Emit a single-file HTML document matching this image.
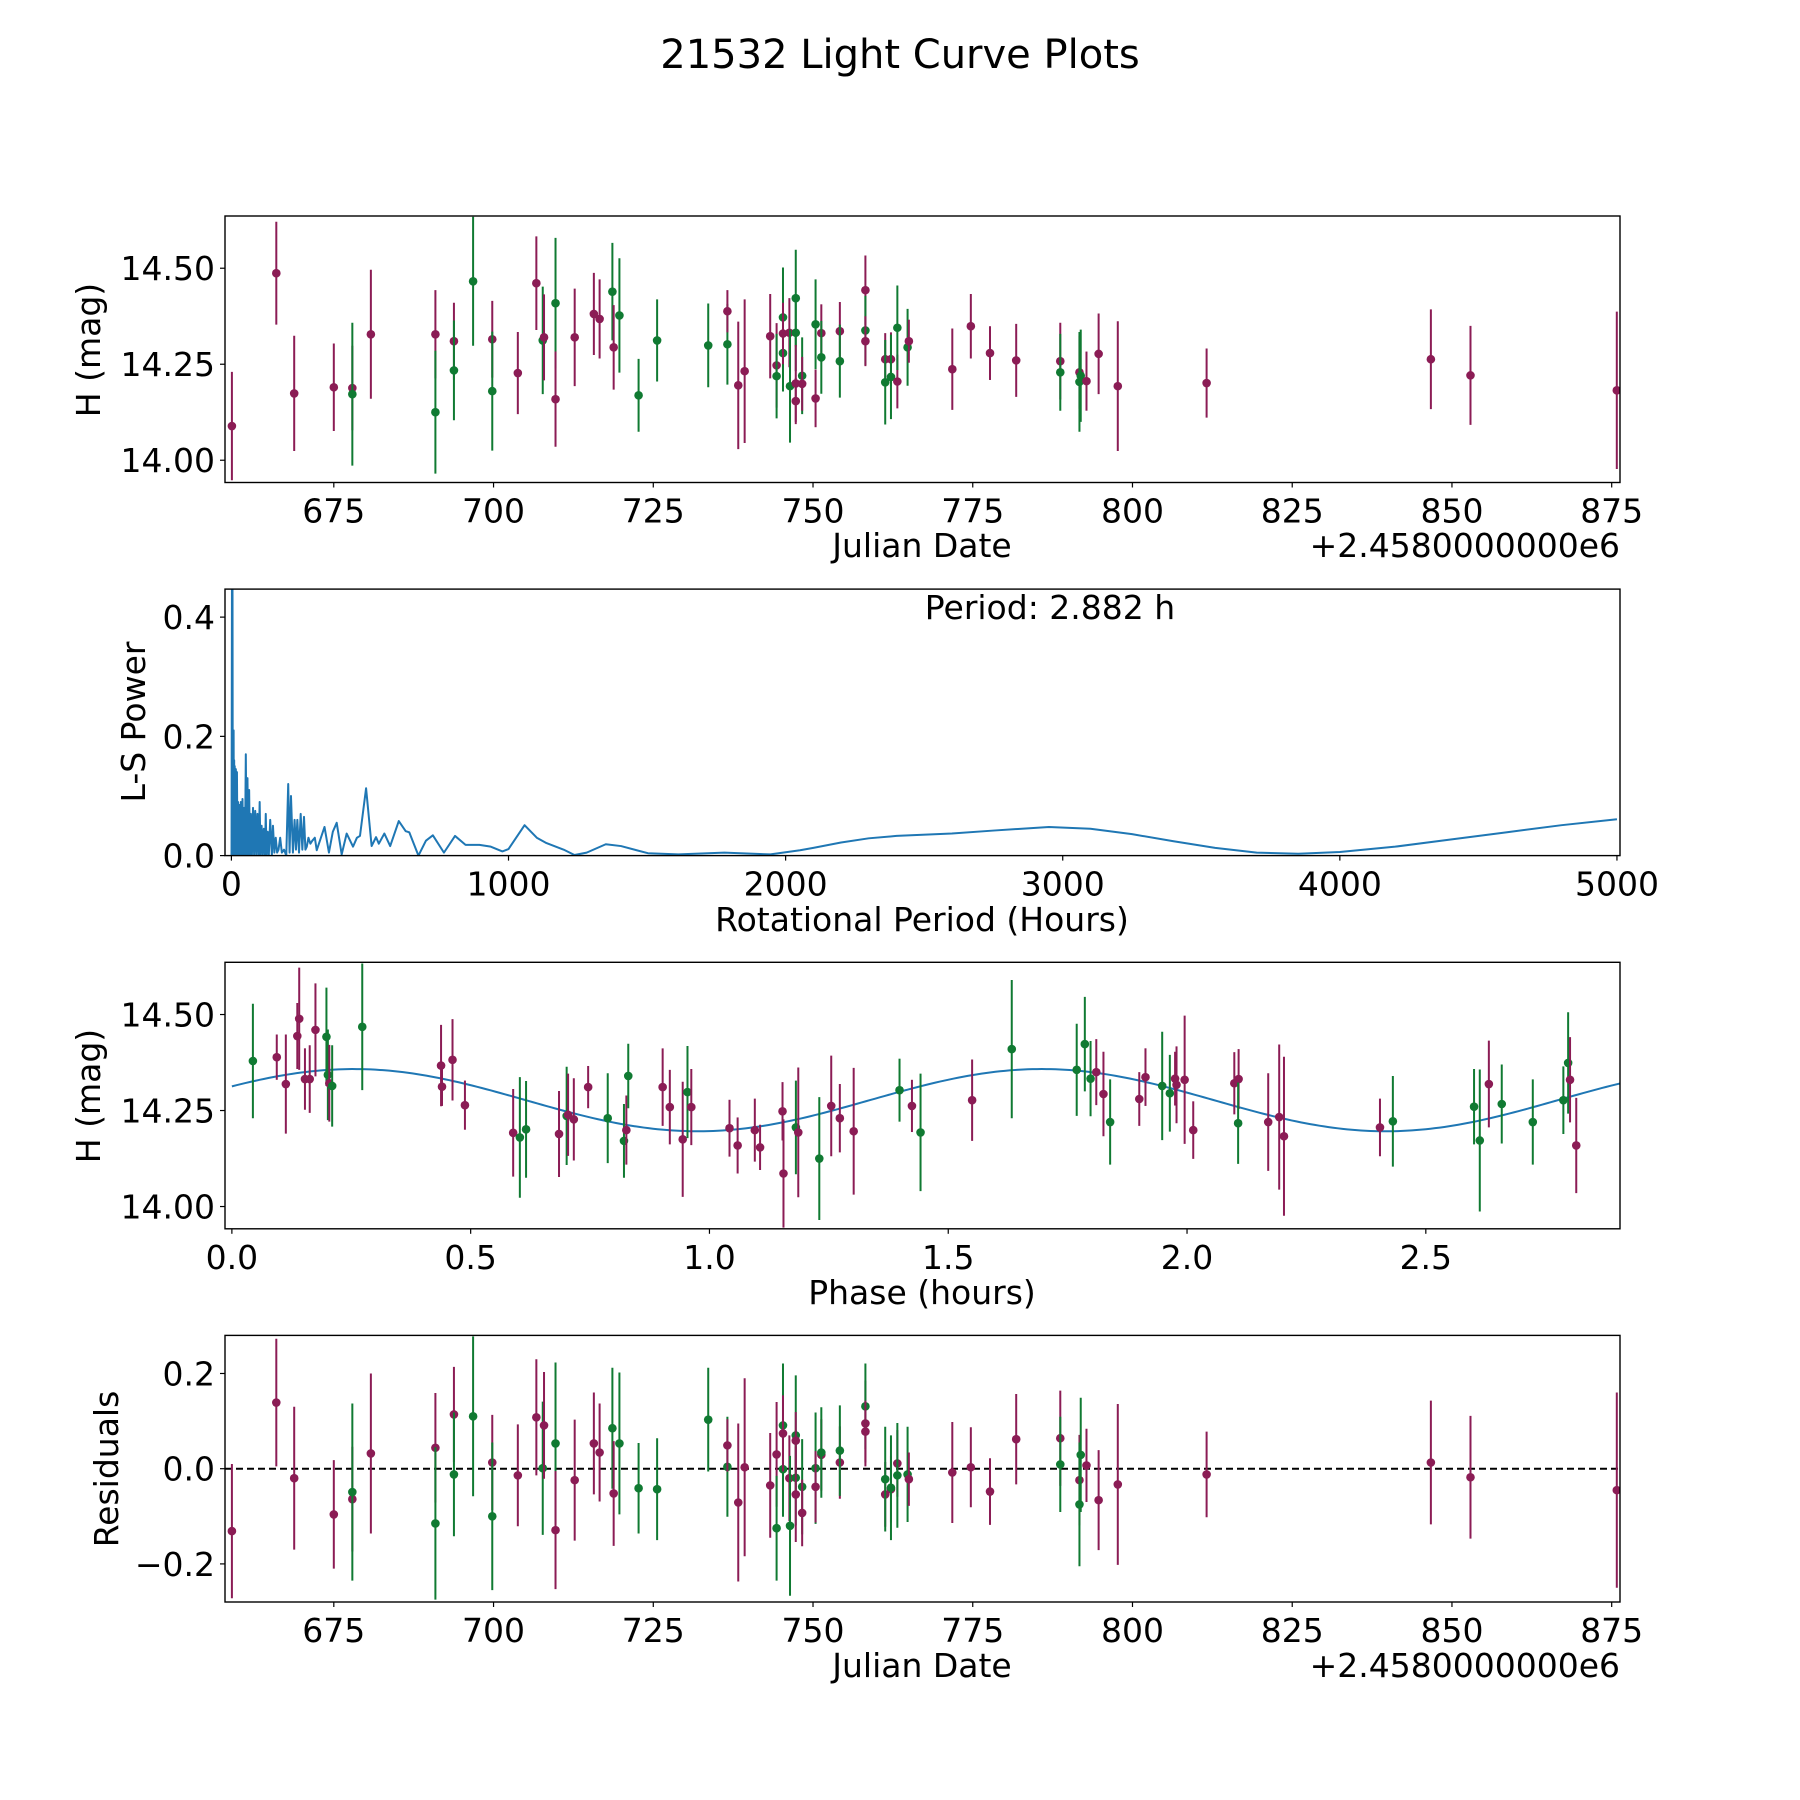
<!DOCTYPE html>
<html><head><meta charset="utf-8"><title>21532 Light Curve Plots</title>
<style>
html,body{margin:0;padding:0;background:#fff;}
svg{display:block;font-family:"DejaVu Sans","Liberation Sans",sans-serif;}
</style></head>
<body>
<svg id="fig" width="1800" height="1800" viewBox="0 0 1800 1800" xmlns="http://www.w3.org/2000/svg">
<rect width="1800" height="1800" fill="#fff"/>
<text x="900" y="68" text-anchor="middle" font-size="40">21532 Light Curve Plots</text>
</svg>
<script>
// ---- Panel 1 / 4 data (Julian date offset, H mag, error, band, residual) ----
const jdDays = [659.05,666.0,668.8,675.0,677.9,677.9,680.8,690.9,690.9,693.8,693.8,696.8,699.8,699.8,703.8,706.7,707.7,707.9,709.7,709.7,712.7,715.7,716.6,718.6,718.8,719.7,722.7,725.6,733.6,736.6,736.6,738.3,739.3,743.3,744.3,744.3,745.3,745.3,745.3,746.3,746.4,747.3,747.3,747.3,747.3,748.3,748.3,750.4,750.4,751.3,751.3,754.2,754.2,758.2,758.2,758.2,761.3,761.3,762.2,762.2,763.2,763.2,764.8,765.0,771.8,774.7,777.7,781.8,788.7,788.7,791.7,791.7,791.9,792.8,794.7,797.7,811.6,846.7,852.9,875.8];
const hMag = [14.089,14.487,14.174,14.190,14.188,14.172,14.328,14.328,14.125,14.310,14.234,14.466,14.315,14.180,14.227,14.461,14.312,14.320,14.409,14.159,14.320,14.381,14.368,14.439,14.294,14.377,14.169,14.312,14.299,14.302,14.388,14.195,14.232,14.323,14.247,14.219,14.372,14.279,14.330,14.332,14.193,14.332,14.422,14.200,14.154,14.220,14.199,14.354,14.161,14.331,14.268,14.336,14.258,14.443,14.338,14.310,14.263,14.203,14.263,14.217,14.205,14.345,14.294,14.310,14.237,14.349,14.279,14.260,14.258,14.229,14.229,14.204,14.220,14.206,14.277,14.193,14.201,14.263,14.221,14.182];
const hErr = [0.141,0.134,0.150,0.114,0.110,0.186,0.168,0.115,0.160,0.100,0.130,0.168,0.100,0.155,0.107,0.122,0.140,0.112,0.170,0.124,0.127,0.107,0.103,0.127,0.110,0.149,0.095,0.107,0.109,0.105,0.055,0.166,0.187,0.110,0.110,0.110,0.130,0.100,0.080,0.090,0.147,0.100,0.126,0.100,0.060,0.100,0.070,0.117,0.075,0.075,0.095,0.076,0.095,0.090,0.090,0.065,0.068,0.110,0.070,0.110,0.070,0.110,0.100,0.056,0.106,0.084,0.070,0.095,0.100,0.100,0.095,0.130,0.120,0.077,0.105,0.169,0.090,0.130,0.129,0.205];
const band = ["P","P","P","P","P","G","P","P","G","P","G","G","P","G","P","P","G","P","G","P","P","P","P","G","P","G","G","G","G","G","P","P","P","P","P","G","G","G","P","P","G","G","G","P","P","G","P","G","P","P","G","P","G","P","G","P","P","G","P","G","P","G","G","P","P","P","P","P","P","G","P","G","G","P","P","P","P","P","P","P"];
const resid = [-0.131,0.139,-0.020,-0.096,-0.064,-0.049,0.032,0.044,-0.115,0.114,-0.012,0.110,0.013,-0.100,-0.014,0.108,0.001,0.091,0.053,-0.129,-0.024,0.053,0.034,0.085,-0.052,0.053,-0.041,-0.043,0.103,0.004,0.049,-0.071,0.003,-0.035,0.030,-0.125,0.091,-0.001,0.074,-0.020,-0.120,-0.019,0.070,-0.054,0.059,-0.038,-0.093,0.001,-0.038,0.029,0.034,0.013,0.038,0.095,0.131,0.078,-0.054,-0.022,-0.043,-0.040,0.011,-0.014,-0.012,-0.022,-0.008,0.003,-0.048,0.062,0.064,0.009,-0.024,-0.075,0.029,0.007,-0.066,-0.033,-0.012,0.013,-0.018,-0.045];

// ---- Panel 3 data (phase folded) ----
const phase = [0.044,0.094,0.113,0.137,0.141,0.153,0.163,0.175,0.198,0.201,0.204,0.210,0.273,0.438,0.440,0.462,0.488,0.589,0.603,0.616,0.685,0.701,0.704,0.716,0.746,0.787,0.821,0.826,0.830,0.902,0.917,0.944,0.954,0.962,1.042,1.059,1.095,1.106,1.153,1.155,1.181,1.186,1.230,1.255,1.273,1.302,1.398,1.424,1.442,1.550,1.633,1.769,1.786,1.798,1.810,1.825,1.839,1.900,1.913,1.948,1.964,1.975,1.978,1.995,2.013,2.099,2.108,2.107,2.170,2.193,2.203,2.404,2.431,2.601,2.613,2.632,2.659,2.724,2.788,2.798,2.802,2.815];
const phMag = [14.379,14.389,14.319,14.444,14.489,14.332,14.332,14.460,14.442,14.343,14.321,14.314,14.468,14.367,14.312,14.382,14.264,14.192,14.180,14.201,14.189,14.236,14.239,14.227,14.311,14.230,14.171,14.199,14.340,14.311,14.259,14.175,14.298,14.259,14.204,14.159,14.199,14.154,14.248,14.086,14.206,14.193,14.125,14.262,14.230,14.196,14.303,14.262,14.193,14.277,14.410,14.356,14.423,14.333,14.350,14.293,14.220,14.280,14.337,14.314,14.295,14.333,14.317,14.330,14.199,14.321,14.332,14.217,14.220,14.233,14.183,14.206,14.222,14.260,14.172,14.319,14.267,14.220,14.277,14.374,14.330,14.159];
const phErr = [0.149,0.059,0.129,0.086,0.133,0.080,0.088,0.121,0.128,0.118,0.100,0.106,0.165,0.106,0.050,0.106,0.064,0.114,0.157,0.126,0.112,0.128,0.107,0.107,0.055,0.117,0.096,0.090,0.084,0.101,0.097,0.150,0.120,0.099,0.074,0.073,0.082,0.059,0.076,0.141,0.122,0.169,0.160,0.131,0.089,0.165,0.082,0.068,0.153,0.106,0.180,0.120,0.123,0.098,0.086,0.110,0.111,0.070,0.075,0.141,0.100,0.070,0.100,0.167,0.075,0.081,0.078,0.106,0.127,0.189,0.207,0.075,0.118,0.098,0.185,0.113,0.103,0.111,0.088,0.132,0.111,0.124];
const phBand = ["G","P","P","P","P","P","P","P","G","G","P","G","G","P","P","P","P","P","G","G","P","G","P","P","P","G","G","P","G","P","P","P","G","P","P","P","P","P","P","P","G","P","G","P","P","P","G","P","G","P","G","G","G","G","P","P","G","P","P","G","G","P","P","P","P","P","P","G","P","P","P","P","G","G","G","P","G","G","G","G","P","P"];
// fitted model parameters (mean, amplitude, peak phase, half period)
const modelMean = 14.277, modelAmp = 0.081, modelPeak = 0.255, modelPeriod = 1.441;

// ---- Panel 2 data (Lomb-Scargle periodogram) ----
const lsPeriod = [0.5,2,3,4,5,6,7,8,9,10,11,12,14,16,18,20,22,24,26,28,31,34,37,40,43,46,49,52,55,58,61,64,67,70,74,78,82,86,90,94,98,102,105,109,113,117,121,124,127,131,135,140,146,150,155,160,165,170,176,182,190,198,205,210,215,222,228,233,238,244,250,256,262,267,272,278,285,292,
301,308,336,352,366,380,398,416,439,453,464,486,506,522,532,552,573,604,629,642,675,702,727,767,807,845,895,936,978,1000,1058,1102,1137,1199,1238,1282,1351,1406,1503,1613,1779,1945,2052,2100,2200,2300,2400,2600,2750,2950,3100,3250,3400,3550,3700,3850,4000,4200,4400,4600,4800,5000];
const lsPower = [0.0,0.45,0.02,0.45,0.0,0.21,0.01,0.21,0.0,0.16,0.0,0.15,0.0,0.145,0.0,0.14,0.0,0.09,0.0,0.085,0.0,0.09,0.0,0.095,0.0,0.08,0.0,0.17,0.0,0.13,0.0,0.11,0.0,0.07,0.0,0.08,0.0,0.075,0.0,0.07,0.0,0.09,0.0,0.05,0.0,0.045,0.0,0.07,0.0,0.04,0.0,0.06,0.0,0.05,0.005,0.03,0.005,0.01,0.03,0.005,0.01,0.0,0.12,0.005,0.10,0.005,0.06,0.01,0.06,0.005,0.07,0.01,0.065,0.01,0.015,0.03,0.02,0.025,
0.030,0.009,0.048,0.005,0.040,0.055,0.002,0.037,0.015,0.030,0.033,0.113,0.016,0.031,0.020,0.037,0.016,0.058,0.041,0.039,0.000,0.025,0.034,0.005,0.033,0.018,0.018,0.015,0.007,0.011,0.051,0.030,0.021,0.010,0.001,0.005,0.019,0.016,0.004,0.002,0.005,0.002,0.009,0.013,0.022,0.029,0.033,0.037,0.042,0.048,0.045,0.036,0.024,0.013,0.005,0.003,0.006,0.015,0.027,0.039,0.051,0.061];

const jdTicks = [675,700,725,750,775,800,825,850,875];
const magTicks = [14.00,14.25,14.50];
const magTickLabels = ["14.00","14.25","14.50"];
const lsXTicks = [0,1000,2000,3000,4000,5000];
const lsYTicks = [0,0.2,0.4];
const lsYTickLabels = ["0.0","0.2","0.4"];
const phTicks = [0,0.5,1.0,1.5,2.0,2.5];
const phTickLabels = ["0.0","0.5","1.0","1.5","2.0","2.5"];
const resTicks = [-0.2,0,0.2];
const resTickLabels = ["\u22120.2","0.0","0.2"];

const NS = "http://www.w3.org/2000/svg";
const svg = document.getElementById("fig");
const COL = {P:"#8b1c55", G:"#107a32"};
const L = 225, R = 1620;
const FS = 33;

function mk(tag, attrs, parent){
  const e = document.createElementNS(NS, tag);
  for (const k in attrs) e.setAttribute(k, attrs[k]);
  (parent || svg).appendChild(e);
  return e;
}
function lin(d0,d1,r0,r1){ return v => r0 + (v-d0)*(r1-r0)/(d1-d0); }

function makeAxes(name, top, bot, xdom, ydom){
  const g = mk("g", {});
  
  
  const clipId = name + "-clip";
  const cp = mk("clipPath", {id: clipId}, g);
  mk("rect", {x:L, y:top, width:R-L, height:bot-top}, cp);
  const plot = mk("g", {"clip-path":"url(#"+clipId+")"}, g);
  
  
  return {g, plot, top, bot, x: lin(xdom[0],xdom[1],L,R), y: lin(ydom[0],ydom[1],bot,top)};
}
function frame(ax){
  const f = mk("rect", {x:L, y:ax.top, width:R-L, height:ax.bot-ax.top, fill:"none", stroke:"#000", "stroke-width":1.4}, ax.g);
  
  
}
function xTicks(ax, vals, labels){
  vals.forEach((v,i)=>{
    const px = ax.x(v);
    mk("line", {x1:px, x2:px, y1:ax.bot, y2:ax.bot+5, stroke:"#000", "stroke-width":1.2}, ax.g);
    const t = mk("text", {x:px, y:ax.bot+40, "text-anchor":"middle", "font-size":FS}, ax.g);
    
    
    t.textContent = labels[i];
  });
}
function yTicks(ax, vals, labels){
  vals.forEach((v,i)=>{
    const py = ax.y(v);
    mk("line", {x1:L-5, x2:L, y1:py, y2:py, stroke:"#000", "stroke-width":1.2}, ax.g);
    const t = mk("text", {x:L-10, y:py+12, "text-anchor":"end", "font-size":FS}, ax.g);
    
    
    t.textContent = labels[i];
  });
}
function label(ax, txt, x, y, rot, name){
  const t = mk("text", {x:x, y:y, "text-anchor":"middle", "font-size":FS, transform: rot ? "rotate(-90 "+x+" "+y+")" : ""}, ax.g);
  
  
  t.textContent = txt;
}
function errPoints(ax, xs, ys, es, bs){
  xs.forEach((xv,i)=>{
    const px = ax.x(xv), py = ax.y(ys[i]);
    const c = COL[bs[i]];
    const ln = mk("line", {x1:px, x2:px, y1:ax.y(ys[i]+es[i]), y2:ax.y(ys[i]-es[i]), stroke:c, "stroke-width":2}, ax.plot);
    
    
    const dot = mk("circle", {cx:px, cy:py, r:4.3, fill:c}, ax.plot);
    
    
  });
}

// Panel 1
const ax1 = makeAxes("light-curve-panel", 216, 482.5, [657.97,876.3], [13.942,14.636]);
errPoints(ax1, jdDays, hMag, hErr, band);
frame(ax1);
xTicks(ax1, jdTicks, jdTicks.map(String));
yTicks(ax1, magTicks, magTickLabels);
label(ax1, "Julian Date", 922, 557, false, "x-axis-title");
label(ax1, "H (mag)", 100, 350, true, "y-axis-title");
{ const t = mk("text", {x:R, y:557, "text-anchor":"end", "font-size":FS}, ax1.g);
  
  
  t.textContent = "+2.4580000000e6"; }

// Panel 2
const ax2 = makeAxes("periodogram-panel", 589.1, 855.6, [-23.1,5011], [0,0.447]);
{ const d = lsPeriod.map((p,i)=>(i?"L":"M")+ax2.x(p).toFixed(2)+" "+ax2.y(lsPower[i]).toFixed(2)).join(" ");
  const p = mk("path", {d:d, fill:"none", stroke:"#1f77b4", "stroke-width":2, "stroke-linejoin":"round"}, ax2.plot);
  
   }
frame(ax2);
xTicks(ax2, lsXTicks, lsXTicks.map(String));
yTicks(ax2, lsYTicks, lsYTickLabels);
label(ax2, "Rotational Period (Hours)", 922, 931, false, "x-axis-title");
label(ax2, "L-S Power", 145, 722, true, "y-axis-title");
{ const t = mk("text", {x:1050, y:619, "text-anchor":"middle", "font-size":FS}, ax2.g);
  
  
  t.textContent = "Period: 2.882 h"; }

// Panel 3
const ax3 = makeAxes("phase-folded-panel", 962.3, 1228.8, [-0.0144,2.9066], [13.942,14.636]);
{ const pts = [];
  for (let i=0;i<=300;i++){ const ph = 2.907*i/300;
    const m = modelMean + modelAmp*Math.cos(2*Math.PI*(ph-modelPeak)/modelPeriod);
    pts.push((i?"L":"M")+ax3.x(ph).toFixed(2)+" "+ax3.y(m).toFixed(2)); }
  const p = mk("path", {d:pts.join(" "), fill:"none", stroke:"#1f77b4", "stroke-width":2}, ax3.plot);
  
   }
errPoints(ax3, phase, phMag, phErr, phBand);
frame(ax3);
xTicks(ax3, phTicks, phTickLabels);
yTicks(ax3, magTicks, magTickLabels);
label(ax3, "Phase (hours)", 922, 1304, false, "x-axis-title");
label(ax3, "H (mag)", 100, 1096, true, "y-axis-title");

// Panel 4
const ax4 = makeAxes("residuals-panel", 1335.4, 1602, [657.97,876.3], [-0.28,0.28]);
{ const z = mk("line", {x1:L, x2:R, y1:ax4.y(0), y2:ax4.y(0), stroke:"#000", "stroke-width":2, "stroke-dasharray":"7,4"}, ax4.plot);
  
   }
errPoints(ax4, jdDays, resid, hErr, band);
frame(ax4);
xTicks(ax4, jdTicks, jdTicks.map(String));
yTicks(ax4, resTicks, resTickLabels);
label(ax4, "Julian Date", 922, 1677, false, "x-axis-title");
label(ax4, "Residuals", 118, 1469, true, "y-axis-title");
{ const t = mk("text", {x:R, y:1677, "text-anchor":"end", "font-size":FS}, ax4.g);
  
  
  t.textContent = "+2.4580000000e6"; }
</script>
</body></html>
